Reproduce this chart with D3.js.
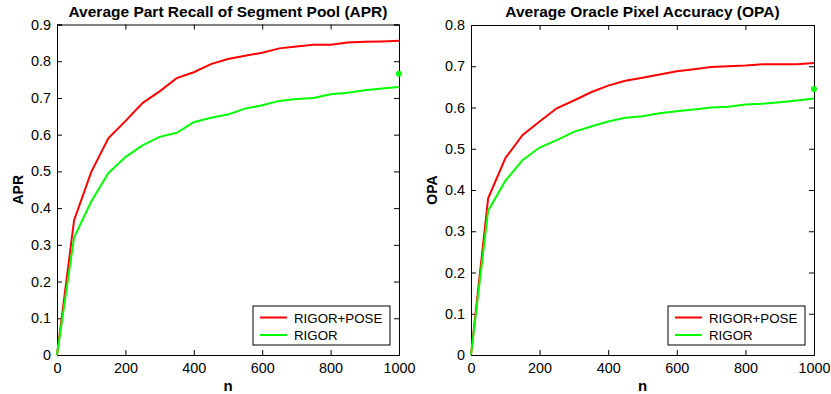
<!DOCTYPE html>
<html>
<head>
<meta charset="utf-8">
<script src="https://cdn.jsdelivr.net/npm/d3@7"></script>
<style>
  body { margin: 0; background: #fff; }
  svg { font-family: "Liberation Sans", Arial, sans-serif; }
  .tick text { font-size: 14.4px; fill: #000; }
</style>
</head>
<body>
<div id="chart"></div>
<script>
// proposal counts
const nValues = [0, 50, 100, 150, 200, 250, 300, 350, 400, 450, 500, 550, 600, 650, 700, 750, 800, 850, 900, 950, 1000];

// APR
const aprPose  = [0, 0.367, 0.498, 0.590, 0.637, 0.686, 0.718, 0.754, 0.770, 0.792, 0.806, 0.815, 0.823, 0.835, 0.840, 0.845, 0.845, 0.851, 0.853, 0.854, 0.856];
const aprRigor = [0, 0.320, 0.418, 0.495, 0.539, 0.571, 0.594, 0.605, 0.634, 0.646, 0.655, 0.671, 0.680, 0.692, 0.697, 0.700, 0.710, 0.714, 0.721, 0.726, 0.730];
const aprDot = 0.766;

// OPA
const opaPose  = [0, 0.380, 0.477, 0.533, 0.566, 0.598, 0.617, 0.637, 0.653, 0.665, 0.672, 0.680, 0.688, 0.693, 0.698, 0.700, 0.702, 0.705, 0.705, 0.705, 0.708];
const opaRigor = [0, 0.350, 0.422, 0.472, 0.503, 0.521, 0.541, 0.554, 0.566, 0.575, 0.579, 0.586, 0.591, 0.595, 0.600, 0.602, 0.607, 0.609, 0.613, 0.617, 0.622];
const opaDot = 0.645;

const xTicks = [0, 200, 400, 600, 800, 1000];
const legendNames = ['RIGOR+POSE', 'RIGOR'];
const colors = ['#ff0000', '#00ff00'];

const svg = d3.select('#chart').append('svg')
  .attr('width', 831)
  .attr('height', 394);

function drawPanel(opts) {
  const x = d3.scaleLinear().domain([0, 1000]).range([opts.left, opts.right]);
  const y = d3.scaleLinear().domain([0, opts.yMax]).range([355, opts.top]);
  const yTicks = d3.range(0, opts.yMax + 1e-9, 0.1).map(v => +v.toFixed(1));
  const g = svg.append('g');

  // axes box with inward ticks (matlab style)
  g.append('g').attr('transform', `translate(0,355)`)
    .call(d3.axisBottom(x).tickValues(xTicks).tickSize(-5).tickPadding(8).tickFormat(d3.format('d')));
  g.append('g').attr('transform', `translate(0,${opts.top})`)
    .call(d3.axisTop(x).tickValues(xTicks).tickSize(-5).tickFormat(''));
  g.append('g').attr('transform', `translate(${opts.left},0)`)
    .call(d3.axisLeft(y).tickValues(yTicks).tickSize(-5).tickPadding(6).tickFormat(d => d === 0 ? '0' : d3.format('.1f')(d)));
  g.append('g').attr('transform', `translate(${opts.right},0)`)
    .call(d3.axisRight(y).tickValues(yTicks).tickSize(-5).tickFormat(''));
  g.selectAll('.domain').attr('stroke', '#000').attr('stroke-width', 1);
  g.selectAll('.tick line').attr('stroke', '#000');

  const line = d3.line().x((d, i) => x(nValues[i])).y(d => y(d));
  opts.series.forEach((s, k) => {
    g.append('path').datum(s)
      .attr('fill', 'none')
      .attr('stroke', colors[k])
      .attr('stroke-width', 2)
      .attr('d', line);
  });
  g.append('circle')
    .attr('cx', x(1000)).attr('cy', y(opts.dot)).attr('r', 3)
    .attr('fill', colors[1]);

  // titles and labels
  g.append('text')
    .attr('x', (opts.left + opts.right) / 2).attr('y', 17)
    .attr('text-anchor', 'middle')
    .attr('font-size', 15.5).attr('font-weight', 'bold')
    .text(opts.title);
  g.append('text')
    .attr('x', (opts.left + opts.right) / 2).attr('y', 391)
    .attr('text-anchor', 'middle')
    .attr('font-size', 15).attr('font-weight', 'bold')
    .text('n');
  g.append('text')
    .attr('transform', `translate(${opts.left - 34},${(355 + opts.top) / 2}) rotate(-90)`)
    .attr('text-anchor', 'middle')
    .attr('font-size', 14).attr('font-weight', 'bold')
    .text(opts.ylabel);

  // legend
  const lx = opts.right - 146, ly = 306;
  g.append('rect')
    .attr('x', lx).attr('y', ly).attr('width', 137).attr('height', 39)
    .attr('fill', '#fff').attr('stroke', '#000').attr('stroke-width', 1);
  legendNames.forEach((name, k) => {
    const yy = ly + 11.5 + k * 17.5;
    g.append('line')
      .attr('x1', lx + 7).attr('x2', lx + 34)
      .attr('y1', yy).attr('y2', yy)
      .attr('stroke', colors[k]).attr('stroke-width', 2);
    g.append('text')
      .attr('x', lx + 41).attr('y', yy + 5)
      .attr('font-size', 13.3)
      .text(name);
  });
}

drawPanel({ left: 57, right: 399, top: 24.5, yMax: 0.9, title: 'Average Part Recall of Segment Pool (APR)', ylabel: 'APR', series: [aprPose, aprRigor], dot: aprDot });
drawPanel({ left: 471, right: 814, top: 25, yMax: 0.8, title: 'Average Oracle Pixel Accuracy (OPA)', ylabel: 'OPA', series: [opaPose, opaRigor], dot: opaDot });
</script>
</body>
</html>
